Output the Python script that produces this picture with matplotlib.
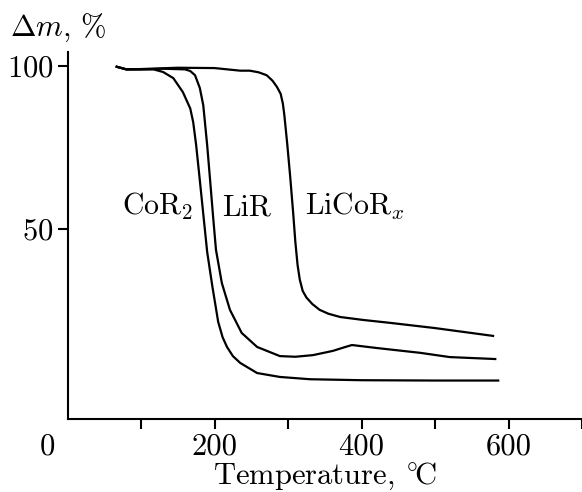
import matplotlib
matplotlib.use("Agg")
import matplotlib.pyplot as plt

# Thermogravimetric curves, values
cor2_t = [67, 80, 100, 117, 130, 144, 157, 167, 171, 175, 180, 185, 190, 197, 205, 211, 217, 225, 235, 258, 289, 330, 400, 500, 586]
cor2_m = [99.8, 99.0, 99.0, 99.0, 98.2, 96.3, 92, 87, 82.8, 75.8, 65, 54, 43, 32.5, 21.5, 16.8, 13.8, 11, 8.9, 5.8, 4.6, 3.9, 3.6, 3.5, 3.5]

lir_t = [67, 80, 100, 130, 160, 167, 173.5, 180, 184.7, 190, 194, 198, 202, 210, 221, 237, 258, 289, 310, 334, 361, 378, 387, 420, 480, 520, 582]
lir_m = [99.8, 99.0, 99.0, 99.2, 99.0, 98.5, 97.2, 93.3, 88, 75.8, 65, 54, 43.6, 33.4, 25.2, 18.1, 13.8, 11, 10.8, 11.3, 12.6, 13.8, 14.4, 13.5, 12, 10.7, 10.1]

licor_t = [67, 80, 100, 150, 200, 235, 248, 260, 271, 279, 285, 290, 293, 295, 297, 299, 303, 307, 310, 313, 316, 320, 325, 333, 343, 355, 371, 402, 439, 500, 579]
licor_m = [99.8, 99.0, 99.1, 99.5, 99.4, 98.6, 98.6, 98.1, 97.2, 95.5, 93.6, 91.5, 88.5, 85, 80.5, 76, 66, 55, 46, 39, 34.5, 31, 29, 27, 25.2, 24, 23, 22.1, 21.2, 19.6, 17.2]

curve_labels = ["CoR$_2$", "LiR", "LiCoR$_x$"]
label_t = [74, 210, 323]
label_m = 54.3

x_ticks = [100, 200, 300, 400, 500, 600, 700]
x_ticklabels = ["", "200", "", "400", "", "600", ""]
y_ticks = [50, 100]

plt.rcParams["font.family"] = "serif"
plt.rcParams["font.serif"] = ["cmr10"]
plt.rcParams["mathtext.fontset"] = "cm"
plt.rcParams["axes.formatter.use_mathtext"] = True

fig = plt.figure(figsize=(5.82, 4.92), dpi=100)
ax = fig.add_axes([0.116, 0.1484, 0.884, 0.7457])

for t, m in [(cor2_t, cor2_m), (lir_t, lir_m), (licor_t, licor_m)]:
    ax.plot(t, m, color="black", lw=1.6, solid_joinstyle="round")

for lab, t in zip(curve_labels, label_t):
    ax.text(t, label_m, lab, fontsize=21.5, ha="left", va="baseline")

ax.set_xlim(0, 700)
ax.set_ylim(-8.3, 104.3)
ax.set_xticks(x_ticks)
ax.set_xticklabels(x_ticklabels)
ax.set_yticks(y_ticks)
ax.tick_params(direction="out", length=7, width=1.5, labelsize=22, pad=3)

for side in ["top", "right"]:
    ax.spines[side].set_visible(False)
for side in ["left", "bottom"]:
    ax.spines[side].set_linewidth(1.5)

# the "0" sits left of the axis corner
ax.annotate("0", xy=(0, 0), xycoords=("data", "axes fraction"),
            xytext=(-20, -14), textcoords="offset pixels",
            ha="center", va="top", fontsize=22)

ax.set_xlabel(r"Temperature, $^{\circ}\!\mathrm{C}$", fontsize=22, labelpad=0)
fig.text(10 / 582, 1 - 28 / 492, r"$\Delta m$, %", fontsize=22, ha="left", va="center")

fig.savefig("out.png", dpi=100)
